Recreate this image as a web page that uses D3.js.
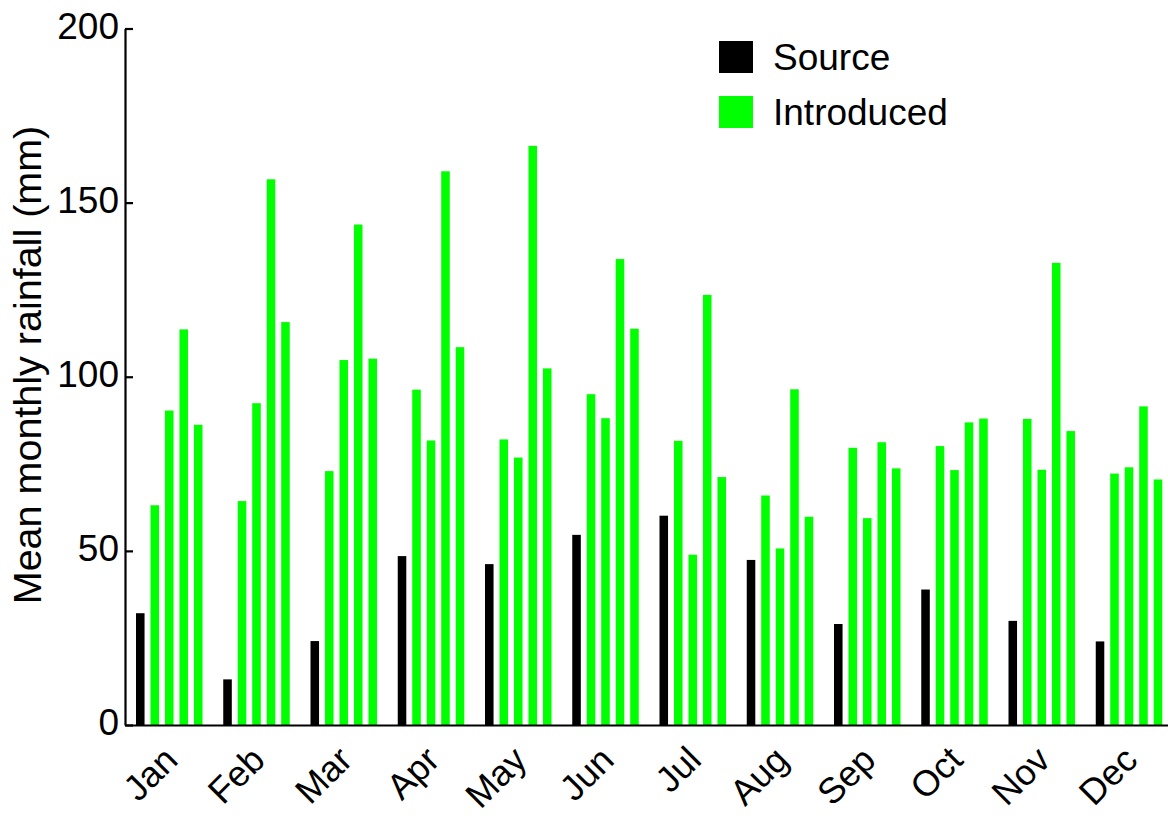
<!DOCTYPE html>
<html>
<head>
<meta charset="utf-8">
<script src="https://cdn.jsdelivr.net/npm/d3@7"></script>
<style>
  html, body { margin: 0; padding: 0; background: #fff; }
  svg { display: block; font-family: "Liberation Sans", Arial, Helvetica, sans-serif; }
</style>
</head>
<body>
<script>
// Mean monthly rainfall (mm): one source site and four introduced sites
const months = ["Jan", "Feb", "Mar", "Apr", "May", "Jun", "Jul", "Aug", "Sep", "Oct", "Nov", "Dec"];
const sourceRain   = [32.1, 13.1, 24.1, 48.5, 46.2, 54.6, 60.1, 47.4, 29.0, 38.9, 29.9, 24.0];
const introduced1  = [63.1, 64.3, 72.9, 96.3, 82.0, 95.0, 81.6, 65.9, 79.6, 80.1, 87.9, 72.2];
const introduced2  = [90.3, 92.4, 104.8, 81.7, 76.8, 88.1, 48.9, 50.7, 59.4, 73.2, 73.3, 74.0];
const introduced3  = [113.6, 156.7, 143.7, 159.0, 166.3, 133.8, 123.5, 96.4, 81.2, 86.9, 132.7, 91.5];
const introduced4  = [86.2, 115.7, 105.2, 108.5, 102.4, 113.8, 71.2, 59.8, 73.7, 88.0, 84.4, 70.5];
const yTicks = [0, 50, 100, 150, 200];
const legendLabels = ["Source", "Introduced"];

const seriesList = [
  { values: sourceRain,  group: 0 },
  { values: introduced1, group: 1 },
  { values: introduced2, group: 1 },
  { values: introduced3, group: 1 },
  { values: introduced4, group: 1 }
];
const groupColors = ["#000000", "#00ff00"];

const W = 1168, H = 816;
const svg = d3.select("body").append("svg").attr("width", W).attr("height", H);

const x0 = d3.scaleBand().domain(months).range([125, 1172]);
const x1 = d3.scaleBand().domain(d3.range(seriesList.length)).range([11, 77.5]).paddingInner(0.41);
const y = d3.scaleLinear().domain([0, 200]).range([725, 28.5]);

// bars
const barRows = [];
months.forEach((m, i) => {
  seriesList.forEach((s, j) => {
    barRows.push({ month: m, idx: j, value: s.values[i], group: s.group });
  });
});

svg.append("g").selectAll("rect")
  .data(barRows)
  .join("rect")
  .attr("x", d => x0(d.month) + x1(d.idx))
  .attr("y", d => y(d.value))
  .attr("width", x1.bandwidth())
  .attr("height", d => y(0) - y(d.value))
  .attr("fill", d => groupColors[d.group]);

// y axis (ticks point inward)
const yAxis = svg.append("g")
  .attr("transform", "translate(125,0)")
  .call(d3.axisLeft(y).tickValues(yTicks).tickSize(-8).tickSizeOuter(0).tickPadding(6));
yAxis.select(".domain").attr("stroke", "#000").attr("stroke-width", 2.2);
yAxis.selectAll(".tick line").attr("stroke", "#000").attr("stroke-width", 2.2);
yAxis.selectAll(".tick text")
  .attr("font-size", 37)
  .attr("fill", "#000")
  .attr("dy", "0.26em");

// x axis with rotated month labels
const xAxis = svg.append("g")
  .attr("transform", "translate(0,725)")
  .call(d3.axisBottom(x0).tickSize(0).tickSizeOuter(0));
xAxis.select(".domain").attr("stroke", "#000").attr("stroke-width", 2.2);
xAxis.selectAll(".tick text")
  .attr("font-size", 36)
  .attr("fill", "#000")
  .attr("text-anchor", "end")
  .attr("x", 0).attr("y", 0).attr("dy", 0)
  .attr("transform", "translate(11,37) rotate(-45)");

// y axis title
svg.append("text")
  .attr("transform", "translate(41,365) rotate(-90)")
  .attr("text-anchor", "middle")
  .attr("font-size", 39.5)
  .attr("fill", "#000")
  .text("Mean monthly rainfall (mm)");

// legend
const legend = svg.append("g").attr("transform", "translate(719,41)");
legendLabels.forEach((lab, i) => {
  const row = legend.append("g").attr("transform", `translate(0,${i * 55})`);
  row.append("rect").attr("width", 34).attr("height", 32).attr("fill", groupColors[i]);
  row.append("text").attr("x", 54).attr("y", 29)
    .attr("font-size", 37).attr("fill", "#000").text(lab);
});
</script>
</body>
</html>
